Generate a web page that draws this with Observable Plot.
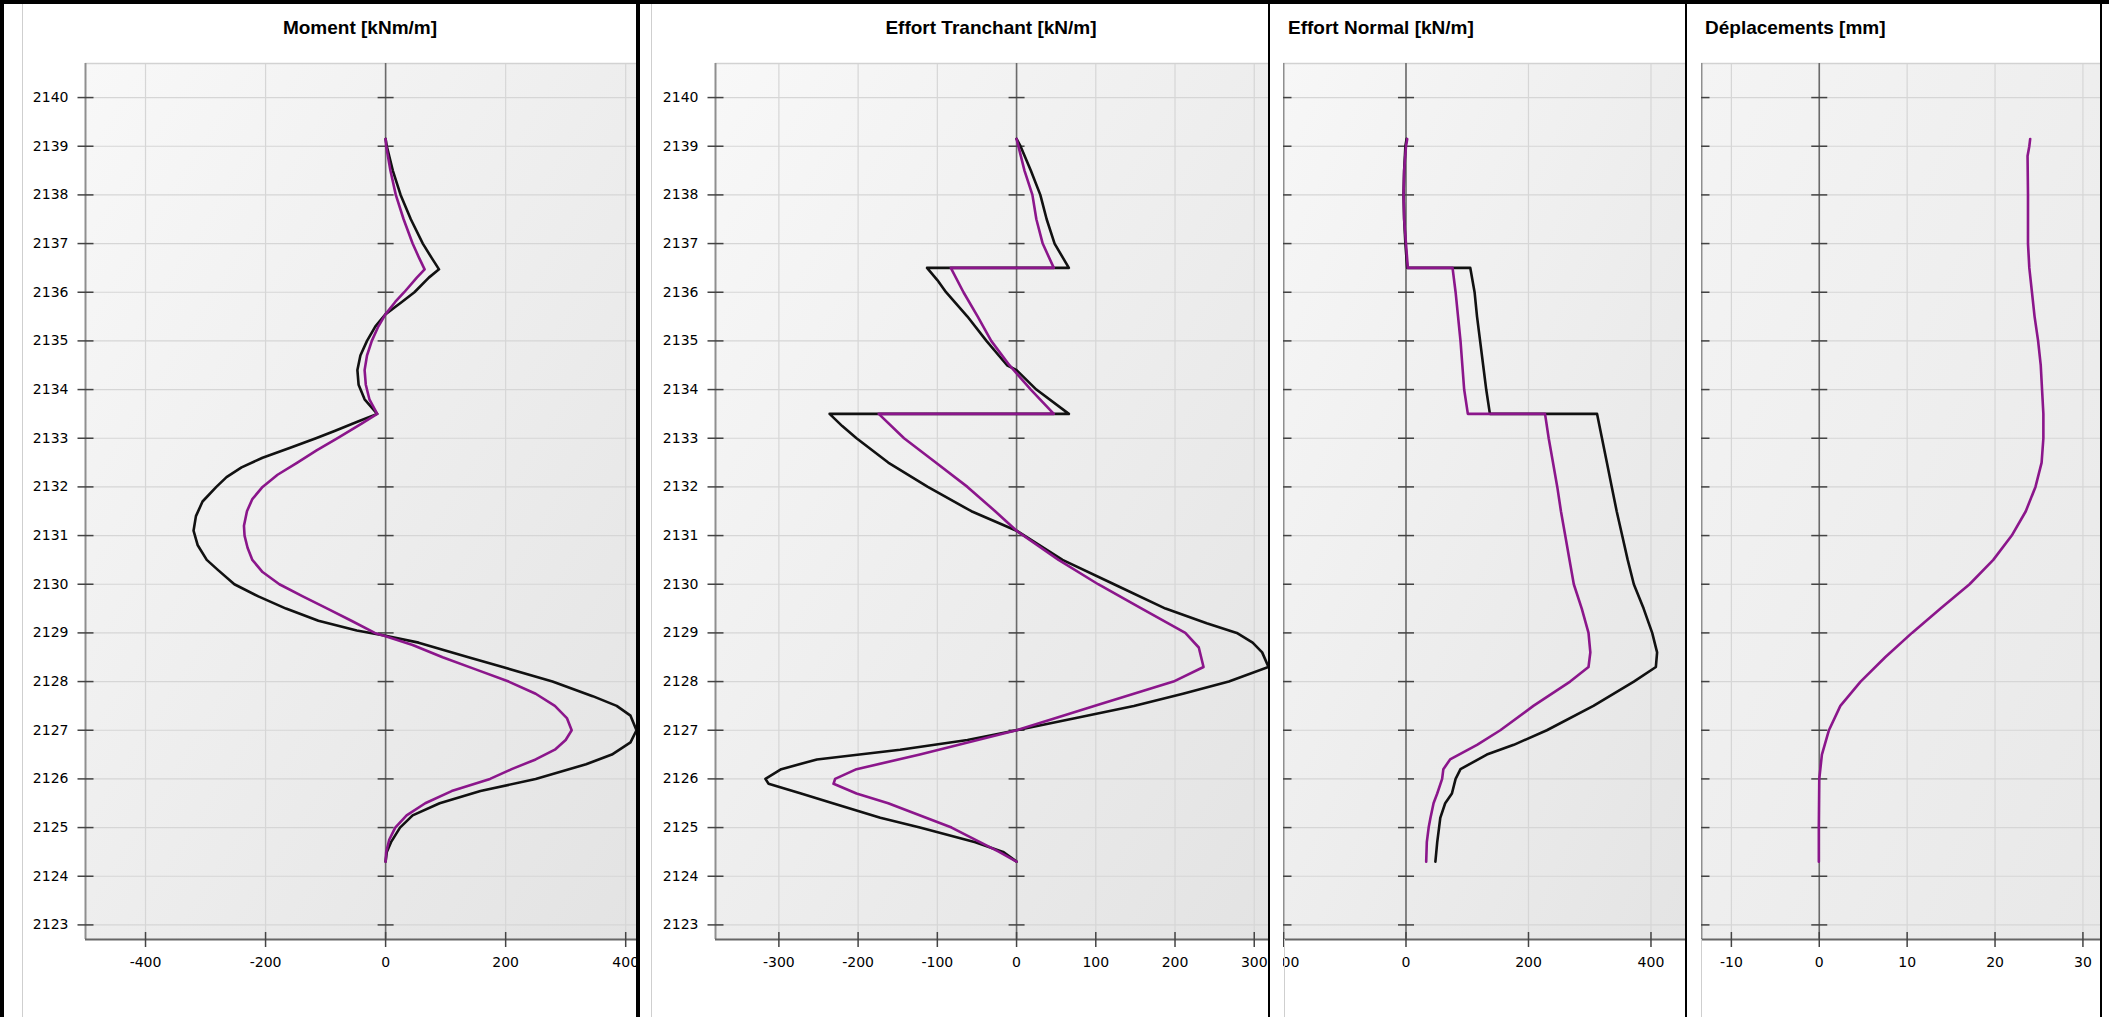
<!DOCTYPE html>
<html><head><meta charset="utf-8">
<script src="https://cdn.jsdelivr.net/npm/d3@7"></script>
<script src="https://cdn.jsdelivr.net/npm/@observablehq/plot@0.6"></script>
<style>
body{margin:0;background:#fff;}
#root{position:relative;width:2109px;height:1017px;overflow:hidden;background:#fff;}
.panel{position:absolute;top:0;height:1017px;overflow:hidden;}
.title{position:absolute;top:16px;font:bold 19px "Liberation Sans",Arial,sans-serif;color:#000;white-space:nowrap;line-height:24px;}
.bar{position:absolute;background:#000;}
.gl{position:absolute;background:#cfcfcf;width:1px;top:4px;height:1013px;}
</style></head><body><div id="root"></div>
<script>
// ---- data ----
const depthTicks = [2123,2124,2125,2126,2127,2128,2129,2130,2131,2132,2133,2134,2135,2136,2137,2138,2139,2140];
const depthDomain = [2122.7, 2140.7];

const momentTicks = [-400,-200,0,200,400];
const momentDomain = [-500, 418];
const shearTicks = [-300,-200,-100,0,100,200,300];
const shearDomain = [-380, 318];
const normalTicks = [-200,0,200,400];
const normalDomain = [-200, 458];
const dispTicks = [-10,0,10,20,30];
const dispDomain = [-13.4, 32];

const titles = ["Moment [kNm/m]", "Effort Tranchant [kN/m]", "Effort Normal [kN/m]", "Déplacements [mm]"];

// [depth, value]
const momentBlack = [[2139.15,0],[2139,2],[2138.5,12],[2138,25],[2137.5,42],[2137,62],[2136.7,77],[2136.47,89],[2136.3,72],[2136,48],[2135.8,27],[2135.55,0],[2135.3,-17],[2135,-31],[2134.7,-42],[2134.4,-47],[2134.1,-45],[2133.8,-35],[2133.5,-14],[2133.35,-45],[2133.15,-85],[2133,-116],[2132.8,-160],[2132.6,-205],[2132.4,-240],[2132.2,-265],[2132,-282],[2131.7,-305],[2131.4,-316],[2131.1,-320],[2130.8,-313],[2130.5,-298],[2130.3,-280],[2130,-252],[2129.75,-212],[2129.5,-166],[2129.25,-112],[2129.05,-48],[2128.94,0],[2128.8,55],[2128.5,138],[2128.3,195],[2128,278],[2127.7,345],[2127.5,385],[2127.3,408],[2127,418],[2126.75,408],[2126.5,377],[2126.3,334],[2126,250],[2125.75,158],[2125.5,90],[2125.25,45],[2125,24],[2124.7,9],[2124.5,2],[2124.3,0]];
const momentPurple = [[2139.15,0],[2139,1],[2138.5,8],[2138,17],[2137.5,30],[2137,45],[2136.7,56],[2136.47,65],[2136.3,52],[2136,31],[2135.8,16],[2135.55,0],[2135.3,-12],[2135,-23],[2134.7,-31],[2134.4,-35],[2134.1,-33],[2133.8,-27],[2133.5,-14],[2133.3,-40],[2133,-80],[2132.75,-115],[2132.5,-147],[2132.25,-180],[2132,-205],[2131.75,-222],[2131.5,-231],[2131.2,-236],[2131,-235],[2130.75,-230],[2130.5,-222],[2130.25,-205],[2130,-177],[2129.75,-138],[2129.5,-97],[2129.25,-57],[2129,-18],[2128.93,0],[2128.75,45],[2128.5,95],[2128.25,150],[2128,205],[2127.75,250],[2127.5,282],[2127.25,302],[2127,310],[2126.8,300],[2126.6,282],[2126.4,250],[2126.2,210],[2126,174],[2125.75,110],[2125.5,66],[2125.25,35],[2125,16],[2124.75,6],[2124.5,1],[2124.3,0]];

const shearBlack = [[2139.15,0],[2139,5],[2138.5,18],[2138,30],[2137.5,38],[2137,48],[2136.5,66],[2136.5,-113],[2136.25,-100],[2136,-89],[2135.5,-62],[2135,-38],[2134.5,-12],[2134.4,0],[2134,25],[2133.5,66],[2133.5,-236],[2133.25,-220],[2133,-202],[2132.5,-162],[2132,-112],[2131.5,-57],[2131.1,0],[2130.5,58],[2130,123],[2129.5,188],[2129.2,240],[2129,278],[2128.8,298],[2128.6,310],[2128.3,318],[2128,268],[2127.75,210],[2127.5,148],[2127.25,75],[2127,0],[2126.8,-62],[2126.6,-147],[2126.4,-252],[2126.2,-297],[2126,-317],[2125.9,-313],[2125.7,-272],[2125.5,-232],[2125.2,-172],[2125,-122],[2124.7,-52],[2124.5,-17],[2124.3,0]];
const shearPurple = [[2139.15,0],[2138.5,10],[2138,20],[2137.5,25],[2137,33],[2136.5,47],[2136.5,-83],[2136,-67],[2135.5,-49],[2135,-32],[2134.5,-9],[2134,18],[2133.5,47],[2133.5,-174],[2133,-142],[2132.5,-102],[2132,-62],[2131.5,-27],[2131.1,0],[2130.5,53],[2130,103],[2129.5,158],[2129,213],[2128.7,230],[2128.3,236],[2128,198],[2127.5,98],[2127,0],[2126.5,-122],[2126.2,-202],[2126,-229],[2125.9,-231],[2125.7,-202],[2125.5,-162],[2125,-82],[2124.5,-22],[2124.3,0]];

const normalBlack = [[2139.15,1],[2139,-1],[2138.5,-3],[2138,-4],[2137.5,-3],[2137,-1],[2136.5,2],[2136.5,105],[2136,112],[2135.5,116],[2135,121],[2134.5,126],[2134,131],[2133.5,137],[2133.5,312],[2133,320],[2132.5,328],[2132,336],[2131.5,344],[2131,353],[2130.5,362],[2130,372],[2129.5,388],[2129,402],[2128.6,410],[2128.3,408],[2128,372],[2127.5,306],[2127,230],[2126.7,176],[2126.5,132],[2126.2,89],[2126,81],[2125.7,75],[2125.5,64],[2125.2,56],[2125,54],[2124.7,51],[2124.3,48]];
const normalPurple = [[2139.15,2],[2139,0],[2138.5,-3],[2138,-4],[2137.5,-3],[2137,0],[2136.5,3],[2136.5,76],[2136,81],[2135.5,85],[2135,89],[2134.5,92],[2134,95],[2133.5,101],[2133.5,227],[2133,233],[2132.5,240],[2132,247],[2131.5,253],[2131,260],[2130.5,267],[2130,274],[2129.5,287],[2129,298],[2128.6,301],[2128.3,298],[2128,268],[2127.5,208],[2127,154],[2126.7,116],[2126.4,72],[2126.2,61],[2126,59],[2125.7,51],[2125.5,45],[2125.2,40],[2125,37],[2124.7,34],[2124.3,33]];

const dispPurple = [[2139.15,24.0],[2139,23.9],[2138.8,23.7],[2138,23.75],[2137,23.75],[2136.5,23.9],[2136,24.2],[2135.5,24.5],[2135,24.9],[2134.5,25.2],[2134,25.35],[2133.5,25.5],[2133,25.5],[2132.5,25.3],[2132,24.6],[2131.5,23.5],[2131,21.9],[2130.5,19.8],[2130,17.1],[2129.5,13.8],[2129,10.55],[2128.5,7.5],[2128,4.7],[2127.5,2.4],[2127,1.1],[2126.5,0.3],[2126,0],[2125,-0.05],[2124.3,-0.05]];

// ---- drawing ----
const root = document.getElementById("root");
const hTick = {draw(ctx){ ctx.moveTo(-8,0); ctx.lineTo(8,0); }};
const vTick = {draw(ctx){ ctx.moveTo(0,-7.5); ctx.lineTo(0,7.5); }};
const fmt = d => String(d);

function gradientMark(id, c0, c1) {
  return () => {
    const g = d3.create("svg:g");
    const lg = g.append("defs").append("linearGradient").attr("id", id)
      .attr("x1", "0").attr("y1", "0").attr("x2", "1").attr("y2", "1");
    lg.append("stop").attr("offset", "0").attr("stop-color", c0);
    lg.append("stop").attr("offset", "1").attr("stop-color", c1);
    return g.node();
  };
}

function panel({left, width, marginLeft, marginRight, xDomain, xTicks, black, purple, showY, id, c0, c1}) {
  const div = document.createElement("div");
  div.className = "panel";
  div.style.left = left + "px";
  div.style.width = width + "px";
  const marks = [
    gradientMark(id, c0, c1),
    Plot.frame({fill: `url(#${id})`, stroke: null}),
    Plot.gridX(xTicks, {stroke: "#d6d6d6", strokeOpacity: 1, strokeWidth: 1.2}),
    Plot.gridY(depthTicks, {stroke: "#d6d6d6", strokeOpacity: 1, strokeWidth: 1.2}),
    Plot.ruleY([depthDomain[1]], {stroke: "#d2d2d2", strokeWidth: 1.5}),
    Plot.ruleX([xDomain[0]], {stroke: "#8f8f8f", strokeWidth: 2}),
    Plot.ruleX([0], {stroke: "#6b6b6b", strokeWidth: 1.6}),
    Plot.ruleY([depthDomain[0]], {stroke: "#666", strokeWidth: 2}),
    Plot.dot(depthTicks, {x: () => xDomain[0], y: d => d, symbol: hTick, stroke: "#444", fill: "none", strokeWidth: 1.5}),
    Plot.dot(depthTicks, {x: () => 0, y: d => d, symbol: hTick, stroke: "#444", fill: "none", strokeWidth: 1.5}),
    Plot.dot(xTicks, {x: d => d, y: () => depthDomain[0], symbol: vTick, stroke: "#444", fill: "none", strokeWidth: 1.5}),
    Plot.axisX(xTicks, {tickSize: 0, tickPadding: 18, tickFormat: fmt, fontSize: 14, fontFamily: "DejaVu Sans", fill: "#000"}),
    showY ? Plot.axisY(depthTicks, {tickSize: 0, tickPadding: 17, tickFormat: fmt, fontSize: 14, fontFamily: "DejaVu Sans", fill: "#000"}) : null
  ];
  if (black) marks.push(Plot.line(black, {x: d => d[1], y: d => d[0], stroke: "#111", strokeWidth: 2.6}));
  if (purple) marks.push(Plot.line(purple, {x: d => d[1], y: d => d[0], stroke: "#8b168b", strokeWidth: 2.6}));
  const p = Plot.plot({
    width, height: 1017,
    marginLeft, marginRight, marginTop: 63, marginBottom: 78,
    x: {domain: xDomain, axis: null},
    y: {domain: depthDomain, axis: null},
    style: {background: "transparent", color: "#000", overflow: "hidden"},
    marks
  });
  div.appendChild(p);
  root.appendChild(div);
}

panel({left: 0, width: 641, marginLeft: 85, marginRight: 5, xDomain: momentDomain, xTicks: momentTicks, black: momentBlack, purple: momentPurple, showY: true, id: "g1", c0: "#f8f8f8", c1: "#e3e3e3"});
panel({left: 641, width: 627, marginLeft: 74, marginRight: 0, xDomain: shearDomain, xTicks: shearTicks, black: shearBlack, purple: shearPurple, showY: true, id: "g2", c0: "#f8f8f8", c1: "#e3e3e3"});
panel({left: 1283, width: 403, marginLeft: 0, marginRight: 0, xDomain: normalDomain, xTicks: normalTicks, black: normalBlack, purple: normalPurple, showY: false, id: "g3", c0: "#f7f7f7", c1: "#e4e4e4"});
panel({left: 1701, width: 399, marginLeft: 0, marginRight: 0, xDomain: dispDomain, xTicks: dispTicks, black: null, purple: dispPurple, showY: false, id: "g4", c0: "#f4f4f4", c1: "#e8e8e8"});

// frames and separators
function el(cls, css) { const d = document.createElement("div"); d.className = cls; Object.assign(d.style, css); root.appendChild(d); return d; }
el("gl", {left: "22px"});
el("gl", {left: "651px"});
el("gl", {left: "1284px", top: "939px", height: "78px"});
el("gl", {left: "1701px", top: "939px", height: "78px"});
el("bar", {left: "0px", top: "0px", width: "2109px", height: "4px"});
el("bar", {left: "0px", top: "0px", width: "4px", height: "1017px"});
el("bar", {left: "636px", top: "0px", width: "4px", height: "1017px"});
el("bar", {left: "1268px", top: "0px", width: "2px", height: "1017px"});
el("bar", {left: "1685px", top: "0px", width: "2px", height: "1017px"});
el("bar", {left: "2100px", top: "0px", width: "2px", height: "1017px"});

// titles
const t1 = el("title", {left: "360px", transform: "translateX(-50%)"}); t1.textContent = titles[0];
const t2 = el("title", {left: "991px", transform: "translateX(-50%)"}); t2.textContent = titles[1];
const t3 = el("title", {left: "1288px"}); t3.textContent = titles[2];
const t4 = el("title", {left: "1705px"}); t4.textContent = titles[3];
</script></body></html>
